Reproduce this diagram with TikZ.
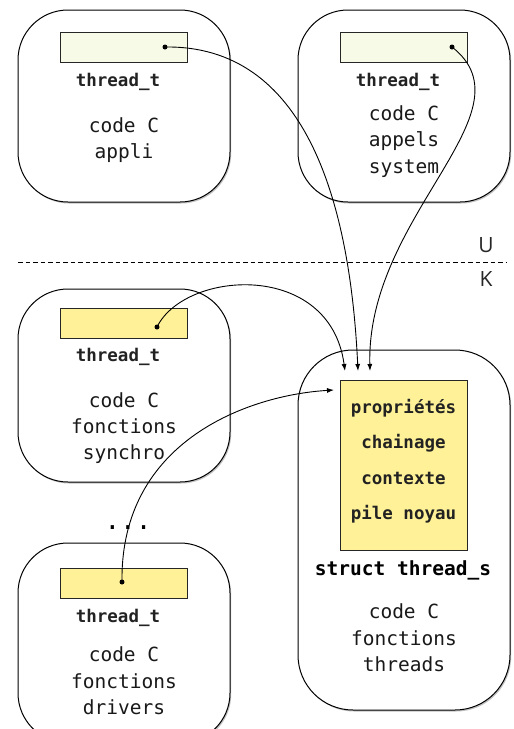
\documentclass[tikz,border=0pt]{standalone}
\usepackage{fontspec}
\setmonofont{DejaVu Sans Mono}
\newfontfamily\ukfont{Open Sans}
\usetikzlibrary{arrows.meta,shadows}
\definecolor{lightfill}{HTML}{F7FAE6}
\definecolor{yellowfill}{HTML}{FFF197}
\definecolor{txt}{HTML}{222222}
\begin{document}
\begin{tikzpicture}[x=1pt,y=-1pt,
  bigbox/.style={draw, line width=1pt, rounded corners=50pt, fill=white,
    drop shadow={shadow xshift=1.2pt, shadow yshift=-1.5pt, opacity=0.35, fill=black!70}},
  tbox/.style={draw=black!85, line width=0.9pt, minimum width=127pt, minimum height=30pt, inner sep=0pt},
  tlabel/.style={font=\fontsize{17.5}{19}\selectfont\ttfamily\bfseries, text=txt, inner sep=0pt},
  code/.style={font=\fontsize{19.5}{26.3}\selectfont\ttfamily, text=black!90, align=center, inner sep=0pt},
  fields/.style={font=\fontsize{17.5}{35.4}\selectfont\ttfamily\bfseries, text=txt, align=center, inner sep=0pt},
  dot/.style={circle, fill=black, inner sep=0pt, minimum size=5pt},
  link/.style={line width=0.9pt, -{Latex[length=7pt,width=5pt]}},
  uk/.style={font=\fontsize{21}{24}\selectfont\ukfont, text=black!85, inner sep=0pt}
]
\useasboundingbox (0,0) rectangle (514,729);

% separator
\coordinate (sepL) at (18,262);
\coordinate (sepR) at (506,262);
\draw[line width=0.9pt, dash pattern=on 4.5pt off 3pt] (sepL) -- (sepR);
\node[uk] (U) at (486,245) {U};
\node[uk] (K) at (486,279) {K};

% big boxes
\node[bigbox, minimum width=212pt, minimum height=192pt] (b1) at (124,106) {};
\node[bigbox, minimum width=212pt, minimum height=192pt] (b2) at (404,106) {};
\node[bigbox, minimum width=212pt, minimum height=193pt] (b3) at (124,385.5) {};
\node[bigbox, minimum width=212pt, minimum height=200pt] (b4) at (124,643) {};
\node[bigbox, minimum width=212pt, minimum height=360pt, rounded corners=55pt] (b5) at (404,530) {};

% inner rectangles
\node[tbox, fill=lightfill] (r1) at (123.5,47) {};
\node[tbox, fill=lightfill] (r2) at (403.5,47.5) {};
\node[tbox, fill=yellowfill] (r3) at (123.5,323) {};
\node[tbox, fill=yellowfill] (r4) at (123.5,583.5) {};
\node[tbox, fill=yellowfill, minimum height=170pt] (r5) at (403.5,465) {};

% labels
\node[tlabel] (l1) at (118,82) {thread\_t};
\node[tlabel] (l2) at (398,82) {thread\_t};
\node[tlabel] (l3) at (118,357) {thread\_t};
\node[tlabel] (l4) at (118,618) {thread\_t};
\node[fields] (f5) at (403.5,461) {propriétés\\chainage\\contexte\\pile noyau};
\node[font=\fontsize{19.5}{21}\selectfont\ttfamily\bfseries, text=black, inner sep=0pt] (l5) at (403,570) {struct thread\_s};

\node[code] (c1) at (124,140) {code C\\appli};
\node[code] (c2) at (404,141.5) {code C\\appels\\system};
\node[code] (c3) at (124,428) {code C\\fonctions\\synchro};
\node[code] (c4) at (124,681) {code C\\fonctions\\drivers};
\node[code] (c5) at (404,638) {code C\\fonctions\\threads};

\node[font=\fontsize{26}{26}\selectfont\ttfamily, inner sep=0pt, anchor=base] (dots) at (128,529) {...};

% pointer dots
\node[dot] (d1) at (165,47) {};
\node[dot] (d2) at (452,47) {};
\node[dot] (d3) at (157,327) {};
\node[dot] (d4) at (122,582) {};

% targets
\coordinate (t1) at (358,371);
\coordinate (t2) at (370,371);
\coordinate (t3) at (345,371);
\coordinate (t4) at (334,390);

\draw[link] (d1.center) .. controls (305,45) and (350,200) .. (t1);
\draw[link] (d2.center) .. controls (535,112) and (366,215) .. (t2);
\draw[link] (d3.center) .. controls (185,270) and (330,260) .. (t3);
\draw[link] (d4.center) .. controls (120,440) and (250,395) .. (t4);
\end{tikzpicture}
\end{document}
